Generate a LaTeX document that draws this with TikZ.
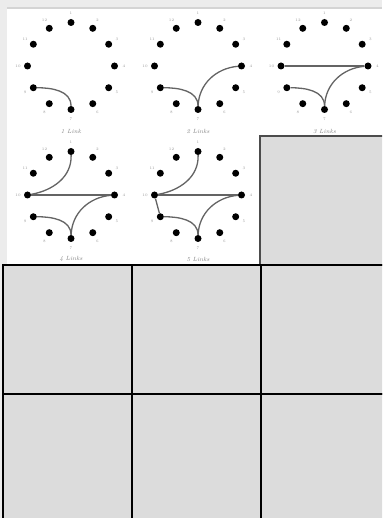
\documentclass[tikz,border=0pt]{standalone}
\usetikzlibrary{calc}
\definecolor{margingray}{RGB}{236,236,236}
\definecolor{bandgray}{RGB}{212,212,212}
\definecolor{cellgray}{RGB}{220,220,220}
\definecolor{linkgray}{RGB}{100,100,100}
\tikzset{
  dot/.style={circle,fill=black,inner sep=0pt,minimum size=7pt},
  lbl/.style={font=\fontsize{3.8}{4}\selectfont,text=gray!80,inner sep=0pt},
  link/.style={draw=linkgray,line width=1.3pt},
  captext/.style={font=\fontsize{6}{7}\selectfont\itshape,text=gray,inner sep=0pt},
  cell/.style={fill=cellgray,draw=black,line width=1.2pt},
  topcell/.style={fill=cellgray,draw=black!70,line width=1.2pt}
}
\newcommand\clockface[3]{%
  \foreach \k in {1,...,12}{%
    \pgfmathsetmacro\ang{90-30*(\k-1)}%
    \node[dot] (#1\k) at ({#2+43.5*cos(\ang)},{#3+43.5*sin(\ang)}) {};
    \node[lbl] (#1l\k) at ({#2+53*cos(\ang)},{#3+53*sin(\ang)}) {\k};
  }}
\begin{document}
\begin{tikzpicture}[x=1pt,y=1pt]
\useasboundingbox (0,0) rectangle (382,518);
\clip (0,0) rectangle (382,518);
% background and panel
\fill[margingray] (0,0) rectangle (382,518);
\fill[white] (7,253) rectangle (382,509);
\fill[bandgray] (7,509) rectangle (382,511);
% grid cells
\draw[topcell] (260,253) rectangle (392,382);
\draw[cell] (3,124) rectangle (132,253);
\draw[cell] (132,124) rectangle (261,253);
\draw[cell] (261,124) rectangle (392,253);
\draw[cell] (3,-10) rectangle (132,124);
\draw[cell] (132,-10) rectangle (261,124);
\draw[cell] (261,-10) rectangle (392,124);
% clock faces
\clockface{a}{71}{452}
\clockface{b}{198}{452}
\clockface{c}{324.5}{452}
\clockface{d}{71}{323}
\clockface{e}{198}{323}
% captions
\node[captext] (capa) at (71,387) {1 Link};
\node[captext] (capb) at (198,387) {2 Links};
\node[captext] (capc) at (324.5,387) {3 Links};
\node[captext] (capd) at (71,259) {4 Links};
\node[captext] (cape) at (198,259) {5 Links};
% links
\draw[link] (a9) to[out=0,in=90] (a7);
\draw[link] (b9) to[out=0,in=90] (b7);
\draw[link] (b4) to[out=185,in=88] (b7);
\draw[link] (c9) to[out=0,in=90] (c7);
\draw[link] (c4) to[out=185,in=88] (c7);
\draw[link] (c10) -- (c4);
\draw[link] (d9) to[out=0,in=90] (d7);
\draw[link] (d4) to[out=185,in=88] (d7);
\draw[link] (d10) -- (d4);
\draw[link] (d10) to[out=10,in=-88] (d1);
\draw[link] (e9) to[out=0,in=90] (e7);
\draw[link] (e4) to[out=185,in=88] (e7);
\draw[link] (e10) -- (e4);
\draw[link] (e10) to[out=10,in=-88] (e1);
\draw[link] (e10) -- (e9);
\end{tikzpicture}
\end{document}
